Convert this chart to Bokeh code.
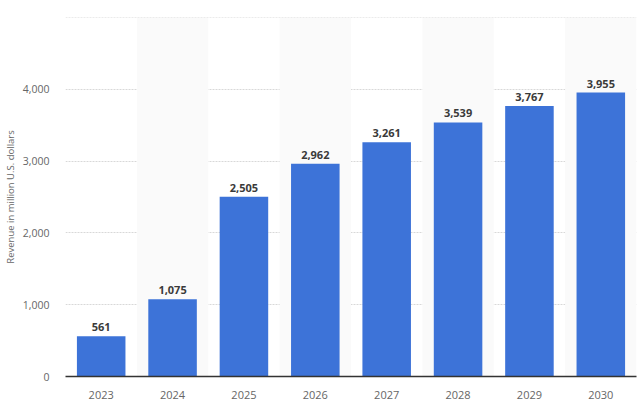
from bokeh.plotting import figure
from bokeh.models import ColumnDataSource, FixedTicker, NumeralTickFormatter, Range1d, FactorRange, LabelSet, Span
from bokeh.core.properties import value
from bokeh.embed import file_html
from bokeh.resources import INLINE

years = ["2023", "2024", "2025", "2026", "2027", "2028", "2029", "2030"]
revenue = [561, 1075, 2505, 2962, 3261, 3539, 3767, 3955]
y_ticks = [0, 1000, 2000, 3000, 4000, 5000]
y_title = "Revenue in million U.S. dollars"

labels = ["{:,}".format(v) for v in revenue]
src = ColumnDataSource(dict(x=years, top=revenue, label=labels))

y_max = 5000
p = figure(width=640, height=403, x_range=FactorRange(*years), y_range=Range1d(0, y_max),
           output_backend="svg", toolbar_location=None,
           min_border_left=56, min_border_right=4, min_border_top=17, min_border_bottom=27)
p.outline_line_color = None
p.background_fill_color = "white"

alt = years[1::2]
p.vbar(x=alt, top=[y_max] * len(alt), width=1.0, fill_color="#fafafa", line_color=None)

p.vbar(x="x", top="top", width=0.68, source=src, fill_color="#3d73d8", line_color=None)

lbl = LabelSet(x="x", y="top", text="label", source=src, text_align="center", text_baseline="bottom",
               y_offset=5, text_font=value("Open Sans"), text_font_size=value("11px"),
               text_font_style="bold", text_color="#3a3a3a")
p.add_layout(lbl)

p.xgrid.grid_line_color = None
p.ygrid.grid_line_color = "#d8d8d8"
p.ygrid.grid_line_dash = "2 1"
p.ygrid.grid_line_width = 1
p.add_layout(Span(location=y_max, dimension="width", line_color="#d8d8d8", line_dash="2 1", line_width=1))

p.yaxis.ticker = FixedTicker(ticks=y_ticks)
p.yaxis.formatter = NumeralTickFormatter(format="0,0")
p.yaxis.major_label_overrides = {5000: ""}
p.yaxis.axis_line_color = None
p.yaxis.major_tick_line_color = None
p.yaxis.minor_tick_line_color = None
p.yaxis.major_label_text_font = "Open Sans"
p.yaxis.major_label_text_font_size = "10.5px"
p.yaxis.major_label_text_color = "#666666"
p.yaxis.major_label_standoff = 10
p.yaxis.axis_label = y_title
p.yaxis.axis_label_text_font = "Open Sans"
p.yaxis.axis_label_text_font_size = "9.5px"
p.yaxis.axis_label_text_font_style = "normal"
p.yaxis.axis_label_text_color = "#666666"
p.yaxis.axis_label_standoff = 3

p.xaxis.axis_line_color = "#333333"
p.xaxis.axis_line_width = 1.5
p.xaxis.major_tick_line_color = None
p.xaxis.minor_tick_line_color = None
p.xaxis.major_label_text_font = "Open Sans"
p.xaxis.major_label_text_font_size = "11px"
p.xaxis.major_label_text_color = "#666666"
p.xaxis.major_label_standoff = 8

open("out.html", "w").write(file_html(p, INLINE))
